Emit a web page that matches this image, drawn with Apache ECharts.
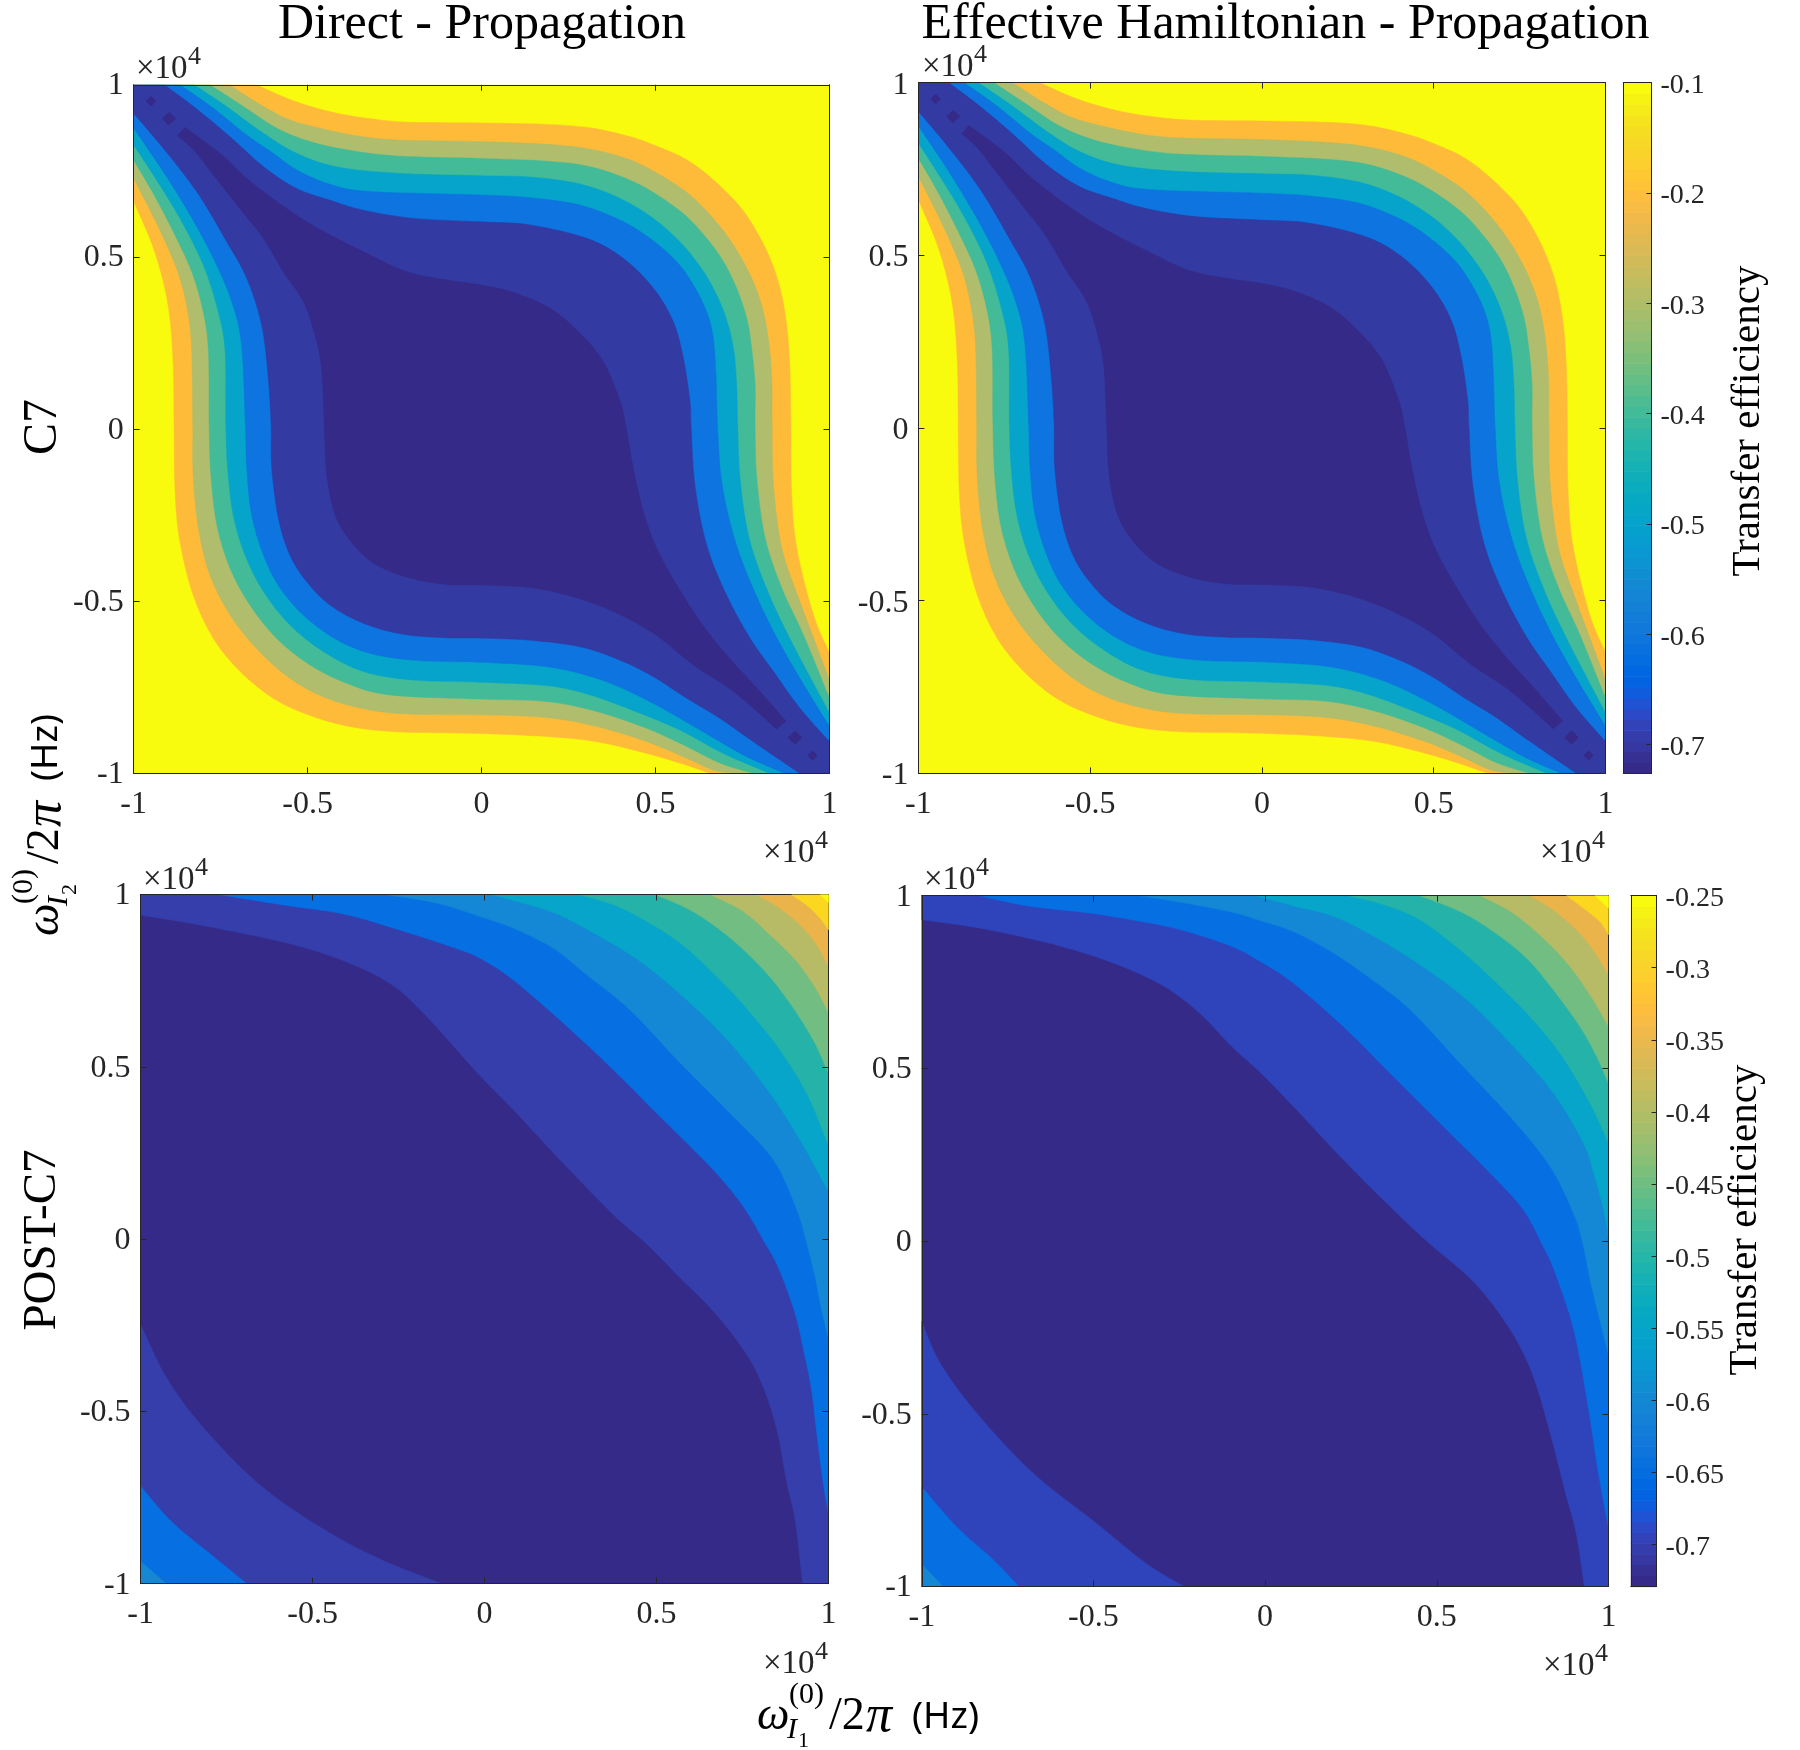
<!DOCTYPE html>
<html>
<head>
<meta charset="utf-8">
<title>Transfer efficiency</title>
<script src="https://cdn.jsdelivr.net/npm/echarts@6/dist/echarts.min.js"></script>
<style>
html, body { margin: 0; padding: 0; background: #fff; }
#main { width: 1800px; height: 1750px; }
</style>
</head>
<body>
<div id="main"></div>
<script>
"use strict";

// contour lines are in units of 1e4 Hz
var box = [[-1, -1], [1, -1], [1, 1], [-1, 1]];

// C7: upper lines run from the top edge to the right edge, lower from the left edge to the bottom edge
var c7Upper1 = [[-.647,1],[-.56,.961],[-.474,.932],[-.388,.912],[-.292,.898],[-.196,.891],[-.005,.889],[.187,.885],[.312,.875],[.427,.849],[.503,.822],[.59,.782],[.666,.724],[.743,.646],[.791,.573],[.829,.496],[.858,.409],[.877,.302],[.886,.177],[.889,.012],[.891,-.182],[.906,-.346],[.954,-.54],[1,-.65]];
var c7Lower1 = [[-1,.661],[-.948,.539],[-.915,.428],[-.896,.322],[-.886,.177],[-.884,.012],[-.881,-.182],[-.867,-.327],[-.829,-.482],[-.771,-.608],[-.694,-.704],[-.599,-.782],[-.503,-.828],[-.388,-.862],[-.244,-.879],[-.005,-.884],[.187,-.893],[.331,-.908],[.475,-.942],[.57,-.97],[.657,-1]];
var c7Upper2 = [[-.726,1],[-.627,.937],[-.551,.898],[-.464,.874],[-.359,.852],[-.244,.84],[-.005,.835],[.187,.827],[.312,.813],[.427,.782],[.522,.733],[.599,.68],[.666,.612],[.724,.535],[.772,.448],[.805,.36],[.824,.264],[.834,.148],[.835,.012],[.839,-.162],[.863,-.346],[.915,-.501],[.958,-.617],[1,-.729]];
var c7Lower2 = [[-1,.728],[-.953,.636],[-.905,.535],[-.867,.438],[-.843,.331],[-.833,.225],[-.83,.012],[-.829,-.133],[-.814,-.288],[-.781,-.424],[-.723,-.54],[-.647,-.637],[-.551,-.724],[-.445,-.782],[-.321,-.816],[-.196,-.828],[-.005,-.83],[.187,-.838],[.331,-.864],[.475,-.908],[.59,-.956],[.666,-.99],[.733,-1]];
var c7Upper3 = [[-.781,1],[-.685,.937],[-.589,.874],[-.493,.835],[-.388,.811],[-.244,.793],[-.005,.786],[.187,.778],[.312,.762],[.427,.723],[.513,.675],[.59,.617],[.647,.554],[.695,.487],[.733,.409],[.762,.322],[.776,.235],[.786,.128],[.786,.012],[.791,-.143],[.815,-.317],[.863,-.462],[.925,-.598],[1,-.782]];
var c7Lower3 = [[-1,.781],[-.944,.685],[-.886,.573],[-.833,.457],[-.8,.341],[-.785,.225],[-.783,.012],[-.778,-.133],[-.761,-.278],[-.723,-.404],[-.666,-.511],[-.589,-.608],[-.493,-.685],[-.388,-.738],[-.263,-.772],[-.005,-.784],[.187,-.791],[.331,-.82],[.475,-.869],[.59,-.922],[.685,-.97],[.781,-1]];
var c7Upper4 = [[-.826,1],[-.733,.937],[-.627,.859],[-.532,.801],[-.417,.762],[-.244,.743],[-.005,.736],[.139,.732],[.283,.712],[.398,.67],[.494,.612],[.57,.544],[.628,.472],[.666,.409],[.7,.331],[.724,.235],[.733,.128],[.736,.012],[.743,-.143],[.767,-.308],[.815,-.453],[.886,-.608],[1,-.825]];
var c7Lower4 = [[-1,.825],[-.934,.723],[-.867,.612],[-.8,.477],[-.757,.341],[-.737,.225],[-.735,.012],[-.73,-.114],[-.714,-.249],[-.68,-.366],[-.627,-.472],[-.551,-.569],[-.455,-.646],[-.34,-.704],[-.196,-.729],[-.005,-.735],[.187,-.745],[.312,-.772],[.455,-.825],[.57,-.874],[.695,-.942],[.829,-1]];
var c7Upper5 = [[-.867,1],[-.771,.932],[-.675,.854],[-.599,.801],[-.532,.753],[-.436,.711],[-.321,.69],[-.005,.68],[.139,.672],[.283,.651],[.398,.607],[.484,.554],[.561,.486],[.609,.418],[.647,.341],[.666,.264],[.674,.148],[.678,.012],[.69,-.153],[.724,-.308],[.772,-.443],[.839,-.588],[.915,-.724],[1,-.864]];
var c7Lower5 = [[-1,.874],[-.915,.748],[-.838,.622],[-.771,.496],[-.718,.37],[-.69,.244],[-.679,.012],[-.675,-.114],[-.661,-.249],[-.627,-.366],[-.579,-.462],[-.503,-.549],[-.407,-.617],[-.302,-.656],[-.167,-.673],[-.005,-.677],[.187,-.69],[.331,-.724],[.455,-.777],[.57,-.84],[.685,-.908],[.771,-.956],[.872,-1]];
var c7Upper6 = [[-.912,1],[-.819,.93],[-.723,.849],[-.627,.762],[-.532,.699],[-.436,.665],[-.34,.636],[-.196,.612],[-.005,.602],[.139,.593],[.302,.554],[.407,.496],[.494,.409],[.551,.312],[.58,.205],[.599,.08],[.602,.012],[.613,-.162],[.647,-.337],[.704,-.482],[.772,-.608],[.839,-.704],[.915,-.811],[1,-.908]];
var c7Lower6 = [[-1,.917],[-.915,.816],[-.819,.69],[-.733,.545],[-.675,.438],[-.632,.302],[-.613,.148],[-.605,.012],[-.603,-.114],[-.584,-.259],[-.551,-.366],[-.503,-.443],[-.436,-.511],[-.34,-.564],[-.225,-.596],[-.1,-.606],[-.005,-.607],[.139,-.613],[.283,-.632],[.398,-.671],[.494,-.719],[.59,-.782],[.685,-.84],[.781,-.908],[.915,-1]];
var c7CoreTop = [[-.853,.876],[-.752,.801],[-.675,.728],[-.589,.661],[-.503,.602],[-.417,.554],[-.321,.506],[-.215,.457],[-.1,.433],[-.005,.419],[.091,.397],[.197,.351],[.283,.278],[.35,.196],[.398,.08],[.414,.012],[.436,-.114],[.465,-.24],[.503,-.346],[.561,-.453],[.628,-.559],[.704,-.656],[.8,-.762],[.875,-.848]];
var c7CoreBottom = [[.848,-.871],[.724,-.762],[.609,-.685],[.494,-.593],[.379,-.53],[.264,-.487],[.139,-.46],[-.005,-.453],[-.1,-.451],[-.196,-.435],[-.292,-.4],[-.359,-.346],[-.417,-.259],[-.445,-.133],[-.452,.012],[-.46,.177],[-.479,.273],[-.512,.37],[-.57,.457],[-.627,.554],[-.695,.641],[-.771,.738],[-.828,.811],[-.874,.852]];
var c7Spot1 = [[-.964,.953],[-.95,.967],[-.936,.953],[-.95,.938]];
var c7Spot2 = [[-.918,.902],[-.898,.92],[-.879,.902],[-.9,.883]];
var c7Spot3 = [[.881,-.896],[.901,-.876],[.921,-.896],[.901,-.916]];
var c7Spot4 = [[.937,-.948],[.951,-.934],[.965,-.948],[.951,-.962]];
var c7Colors = ['#febb3a', '#afbd6c', '#43bb98', '#06a4cb', '#0e74df', '#333aa1', '#352a87'];

// POST-C7, direct propagation
var postAUpper = [
    [[-1,.94],[-.825,.911],[-.574,.859],[-.407,.806],[-.274,.741],[-.174,.652],[-.013,.474],[.084,.375],[.229,.22],[.375,.07],[.469,-.012],[.569,-.113],[.666,-.21],[.753,-.321],[.806,-.418],[.85,-.553],[.879,-.708],[.903,-.815],[.925,-1]],
    [[-.775,1],[-.574,.968],[-.407,.943],[-.24,.895],[-.09,.846],[-.013,.815],[.084,.752],[.229,.627],[.375,.491],[.52,.346],[.665,.201],[.753,.094],[.816,-.012],[.855,-.084],[.903,-.215],[.932,-.341],[.951,-.437],[.966,-.563],[.985,-.708],[1,-.795]],
    [[-.29,1],[-.14,.975],[-.013,.936],[.084,.902],[.2,.844],[.297,.767],[.423,.665],[.569,.511],[.714,.365],[.84,.23],[.908,.085],[.937,-.012],[.961,-.108],[.98,-.205],[1,-.287]],
    [[.016,1],[.103,.977],[.21,.944],[.326,.883],[.452,.806],[.588,.694],[.714,.569],[.83,.423],[.917,.288],[1,.138]],
    [[.273,1],[.375,.97],[.472,.922],[.569,.859],[.665,.772],[.762,.67],[.859,.549],[.937,.423],[1,.273]],
    [[.496,1],[.588,.96],[.665,.912],[.743,.849],[.82,.772],[.888,.685],[.956,.578],[1,.482]],
    [[.656,1],[.753,.951],[.83,.883],[.908,.806],[.966,.723],[1,.656]],
    [[.791,1],[.859,.96],[.918,.912],[.966,.854],[1,.791]],
    [[.893,1],[.942,.965],[.976,.931],[1,.898]],
    [[.976,1],[1,.977]]
];
var postALower = [
    [[-1,-.247],[-.925,-.401],[-.825,-.538],[-.658,-.709],[-.474,-.838],[-.307,-.927],[-.124,-1]],
    [[-1,-.717],[-.908,-.822],[-.791,-.919],[-.691,-1]],
    [[-1,-.935],[-.925,-1]]
];
var postAColors = ['#353eab', '#0670e3', '#1487d5', '#06a5c9', '#25b3a9', '#72bd81', '#b8bb66', '#ebb44b', '#fbd81f', '#f9fb0e'];

// POST-C7, effective Hamiltonian
var postBUpper = [
    [[-1,.93],[-.816,.903],[-.593,.853],[-.437,.803],[-.321,.752],[-.243,.703],[-.175,.645],[-.097,.563],[-.015,.489],[.082,.39],[.228,.235],[.373,.091],[.477,-.006],[.609,-.12],[.709,-.249],[.776,-.378],[.826,-.54],[.876,-.733],[.906,-.846],[.93,-1]],
    [[-.835,1],[-.69,.97],[-.505,.949],[-.389,.93],[-.253,.903],[-.097,.853],[-.015,.81],[.082,.747],[.228,.621],[.373,.477],[.519,.332],[.665,.187],[.752,.091],[.805,-.006],[.843,-.087],[.901,-.264],[.943,-.491],[.968,-.653],[1,-.83]],
    [[-.37,1],[-.243,.98],[-.097,.952],[-.015,.928],[.082,.896],[.199,.834],[.306,.761],[.422,.67],[.568,.515],[.713,.361],[.83,.216],[.898,.081],[.925,-.006],[.952,-.135],[1,-.329]],
    [[-.03,1],[.082,.97],[.199,.94],[.325,.877],[.451,.8],[.587,.699],[.723,.563],[.84,.428],[.927,.284],[.956,.2],[.986,.091],[1,.009]],
    [[.238,1],[.344,.974],[.451,.93],[.568,.843],[.665,.756],[.762,.66],[.859,.544],[.946,.4],[1,.284]],
    [[.449,1],[.568,.954],[.665,.896],[.762,.819],[.84,.727],[.917,.621],[.966,.534],[1,.457]],
    [[.626,1],[.723,.949],[.81,.877],[.888,.795],[.956,.698],[1,.621]],
    [[.771,1],[.839,.959],[.907,.901],[.956,.843],[1,.771]],
    [[.878,1],[.927,.964],[.975,.925],[1,.887]],
    [[.961,1],[1,.964]]
];
var postBLower = [
    [[-1,-.233],[-.946,-.354],[-.846,-.491],[-.679,-.669],[-.495,-.814],[-.344,-.935],[-.236,-1]],
    [[-1,-.712],[-.896,-.83],[-.796,-.919],[-.717,-1]],
    [[-1,-.935],[-.938,-1]]
];
var postBColors = ['#2f44bb', '#0670e3', '#1487d5', '#06a5c9', '#25b3a9', '#72bd81', '#b8bb66', '#ebb44b', '#fbd81f', '#f9fb0e'];

var barTicksTop = [-0.7, -0.6, -0.5, -0.4, -0.3, -0.2, -0.1];
var barTicksBottom = [-0.7, -0.65, -0.6, -0.55, -0.5, -0.45, -0.4, -0.35, -0.3, -0.25];

var parula = [
    [.2081,.1663,.5292],[.2116,.1898,.5777],[.2123,.2138,.627],[.2081,.2386,.6771],[.1959,.2645,.7279],[.1707,.2919,.7792],[.1253,.3242,.8303],[.0591,.3598,.8683],
    [.0117,.3875,.882],[.006,.4086,.8828],[.0165,.4266,.8786],[.0329,.443,.872],[.0498,.4586,.8641],[.0629,.4737,.8554],[.0723,.4887,.8467],[.0779,.504,.8384],
    [.0793,.52,.8312],[.0749,.5375,.8263],[.0641,.557,.824],[.0488,.5772,.8228],[.0343,.5966,.8199],[.0265,.6137,.8135],[.0239,.6287,.8038],[.0231,.6418,.7913],
    [.0228,.6535,.7768],[.0267,.6642,.7607],[.0384,.6743,.7436],[.059,.6838,.7254],[.0843,.6932,.7068],[.1133,.7031,.6866],[.1453,.7132,.6657],[.1801,.7177,.6424],
    [.2178,.725,.6193],[.2586,.7317,.5954],[.3022,.7376,.5712],[.3482,.7424,.5473],[.3953,.7459,.5244],[.442,.7481,.5033],[.4871,.7491,.484],[.53,.7491,.4661],
    [.5709,.7485,.4494],[.6099,.7473,.4337],[.6473,.7456,.4188],[.6834,.7435,.4044],[.7184,.7411,.3905],[.7525,.7384,.3768],[.7858,.7356,.3633],[.8185,.7327,.3498],
    [.8507,.7299,.336],[.8824,.7274,.3217],[.9139,.7258,.3063],[.945,.7261,.2886],[.9739,.7314,.2666],[.9938,.7455,.2403],[.999,.7653,.2164],[.9955,.7861,.1967],
    [.988,.8066,.1794],[.9789,.8271,.1633],[.9697,.8481,.1475],[.9626,.8705,.1309],[.9589,.8949,.1132],[.9598,.9218,.0948],[.9661,.9514,.0755],[.9763,.9831,.0538]
];

var serif = '"Liberation Serif", "Times New Roman", serif';
var tickColor = '#262626';

var grids = [], xAxes = [], yAxes = [], series = [];

// y tick labels sit a little below their ticks, done with a rich text padding
function yLabel(show, size, margin, pad, ticks) {
    var opt = {
        show: show, margin: margin, formatter: '{a|{value}}',
        showMinLabel: true, showMaxLabel: true, hideOverlap: false,
        rich: {a: {color: tickColor, fontFamily: serif, fontSize: size, padding: [pad, 0, 0, 0]}}
    };
    if (ticks) {
        opt.customValues = ticks;
    }
    return opt;
}

function addAxes(rect, isBar, yMin, yMax, barTicks, labelPad) {
    var g = grids.length;
    grids.push({left: rect[0], top: rect[1], width: rect[2], height: rect[3], show: false});
    var lineStyle = {color: tickColor, width: 1};
    var x0 = isBar ? 0 : -1;
    [0, 1].forEach(function (k) {
        xAxes.push({
            type: 'value', gridIndex: g, min: x0, max: 1, interval: isBar ? 1 : 0.5,
            position: k ? 'top' : 'bottom', z: 10, silent: true,
            axisLine: {show: true, onZero: false, lineStyle: lineStyle},
            axisTick: {show: !isBar, inside: true, length: 6, lineStyle: lineStyle},
            splitLine: {show: false},
            axisLabel: {
                show: !isBar && !k, color: tickColor, fontFamily: serif, fontSize: 32, margin: 15,
                showMinLabel: true, showMaxLabel: true, hideOverlap: false
            }
        });
        var yOpt = {
            type: 'value', gridIndex: g, min: yMin, max: yMax,
            position: k ? 'right' : 'left', z: 10, silent: true,
            axisLine: {show: true, onZero: false, lineStyle: lineStyle},
            splitLine: {show: false}
        };
        if (isBar) {
            yOpt.axisTick = {show: !!k, inside: true, length: 5, lineStyle: lineStyle, customValues: barTicks};
            yOpt.axisLabel = yLabel(!!k, 28, 9, labelPad, barTicks);
        } else {
            yOpt.interval = 0.5;
            yOpt.axisTick = {show: true, inside: true, length: 6, lineStyle: lineStyle};
            yOpt.axisLabel = yLabel(!k, 32, 10, labelPad);
        }
        yAxes.push(yOpt);
    });
    return g;
}

// path through data points: each part is drawn as a smooth line, straight joins between parts
function toPath(parts, api) {
    var d = '';
    parts.forEach(function (part, n) {
        var p = part.map(function (v) { return api.coord(v); });
        d += (n ? 'L' : 'M') + p[0][0] + ' ' + p[0][1];
        for (var i = 0; i < p.length - 1; i++) {
            var a = p[i - 1] || p[i], b = p[i], c = p[i + 1], e = p[i + 2] || c;
            d += 'C' + (b[0] + (c[0] - a[0]) / 6) + ' ' + (b[1] + (c[1] - a[1]) / 6) + ' ' +
                (c[0] - (e[0] - b[0]) / 6) + ' ' + (c[1] - (e[1] - b[1]) / 6) + ' ' + c[0] + ' ' + c[1];
        }
    });
    return d + 'Z';
}

function addArea(g, parts, color, z) {
    series.push({
        type: 'custom', coordinateSystem: 'cartesian2d',
        xAxisIndex: g * 2, yAxisIndex: g * 2, silent: true, animation: false, z: z, clip: true,
        data: [0],
        renderItem: function (params, api) {
            return {
                type: 'path',
                shape: {pathData: toPath(parts, api)},
                style: {fill: color, stroke: color, lineWidth: 0.5}
            };
        }
    });
}

function corners(points) {
    return points.map(function (p) { return [p]; });
}

function c7Panel(rect, labelPad) {
    var g = addAxes(rect, false, -1, 1, null, labelPad);
    addArea(g, corners(box), '#f8fb0e', 2);
    var uppers = [c7Upper1, c7Upper2, c7Upper3, c7Upper4, c7Upper5, c7Upper6];
    var lowers = [c7Lower1, c7Lower2, c7Lower3, c7Lower4, c7Lower5, c7Lower6];
    uppers.forEach(function (u, i) {
        addArea(g, [u, [[1, -1]], lowers[i].slice().reverse(), [[-1, 1]]], c7Colors[i], 3 + i);
    });
    addArea(g, [c7CoreTop, c7CoreBottom], c7Colors[6], 9);
    [c7Spot1, c7Spot2, c7Spot3, c7Spot4].forEach(function (p) {
        addArea(g, corners(p), c7Colors[6], 9);
    });
}

function postPanel(rect, uppers, lowers, colors, labelPad) {
    var g = addAxes(rect, false, -1, 1, null, labelPad);
    addArea(g, corners(box), '#352a87', 2);
    uppers.forEach(function (u, i) {
        // first line runs left edge to bottom edge, the rest top edge to right edge
        var parts = i === 0 ? [u, [[1, -1]], [[1, 1]], [[-1, 1]]] : [u, [[1, 1]]];
        addArea(g, parts, colors[i], 3 + i);
        if (lowers[i]) {
            addArea(g, [lowers[i], [[-1, -1]]], colors[i], 3 + i);
        }
    });
}

function barPanel(rect, yMin, yMax, ticks) {
    var g = addAxes(rect, true, yMin, yMax, ticks, 6);
    series.push({
        type: 'custom', coordinateSystem: 'cartesian2d',
        xAxisIndex: g * 2, yAxisIndex: g * 2, silent: true, animation: false, z: 3,
        data: parula.map(function (c, i) { return i; }),
        renderItem: function (params, api) {
            var i = params.dataIndex, c = parula[i];
            var step = (yMax - yMin) / parula.length;
            var a = api.coord([0, yMin + i * step]);
            var b = api.coord([1, yMin + (i + 1) * step]);
            var fill = 'rgb(' + Math.round(c[0] * 255) + ',' + Math.round(c[1] * 255) + ',' + Math.round(c[2] * 255) + ')';
            return {
                type: 'rect',
                shape: {x: a[0], y: b[1], width: b[0] - a[0], height: a[1] - b[1] + 0.6},
                style: {fill: fill}
            };
        }
    });
}

c7Panel([133.7, 84.8, 695.8, 688.6], 2);
c7Panel([918.4, 82.6, 687.1, 690.8], 5);
postPanel([140.6, 894.5, 687.8, 689.2], postAUpper, postALower, postAColors, 3);
postPanel([921.8, 895.6, 686.6, 690.9], postBUpper, postBLower, postBColors, 3);
barPanel([1623.3, 82.6, 28.1, 690.8], -0.726, -0.1, barTicksTop);
barPanel([1630.8, 895.6, 25.8, 690.9], -0.729, -0.25, barTicksBottom);

// texts
function label(text, x, y, size, opt) {
    opt = opt || {};
    return {
        type: 'text', x: x, y: y, rotation: opt.rotation || 0, silent: true, z: 20,
        style: {
            text: text, x: 0, y: 0, fill: opt.fill || '#000',
            font: (opt.style ? opt.style + ' ' : '') + size + 'px ' + (opt.family || serif),
            align: opt.align || 'center', verticalAlign: 'middle'
        }
    };
}

function times10(x, y) {
    return [
        label('\u00d710', x, y, 33, {align: 'left', fill: tickColor}),
        label('4', x + 52, y - 12, 26, {align: 'left', fill: tickColor})
    ];
}

function omegaLabel(x, y, rotation, sub) {
    var it = {align: 'left', style: 'italic'};
    return {
        type: 'group', x: x, y: y, rotation: rotation, silent: true, z: 20,
        children: [
            label('\u03c9', 0, 0, 46, it),
            label('(0)', 32, -22, 30, {align: 'left'}),
            label('I', 30, 13, 30, it),
            label(sub, 41, 24, 22, {align: 'left'}),
            label('/2', 72, 0, 46, {align: 'left'}),
            label('\u03c0', 109, 0, 52, it),
            label('(Hz)', 155, 0, 37, {align: 'left', family: '"Noto Sans", sans-serif'})
        ]
    };
}

var texts = [
    label('Direct - Propagation', 482, 25, 50),
    label('Effective Hamiltonian - Propagation', 1285.5, 25, 50),
    label('C7', 43, 427, 48, {rotation: Math.PI / 2}),
    label('POST-C7', 43, 1240, 47, {rotation: Math.PI / 2}),
    label('Transfer efficiency', 1748, 421, 41, {rotation: Math.PI / 2}),
    label('Transfer efficiency', 1745, 1220, 41, {rotation: Math.PI / 2}),
    omegaLabel(46, 936, Math.PI / 2, '2'),
    omegaLabel(757, 1717, 0, '1')
].concat(
    times10(136, 69), times10(763, 853),
    times10(922, 67), times10(1540, 853),
    times10(143, 880), times10(763, 1664),
    times10(924, 880), times10(1543, 1666)
);

var chart = echarts.init(document.getElementById('main'), null, {renderer: 'canvas'});
chart.setOption({
    animation: false,
    backgroundColor: '#fff',
    tooltip: {show: false},
    grid: grids,
    xAxis: xAxes,
    yAxis: yAxes,
    series: series,
    graphic: {elements: texts}
});
</script>
</body>
</html>
